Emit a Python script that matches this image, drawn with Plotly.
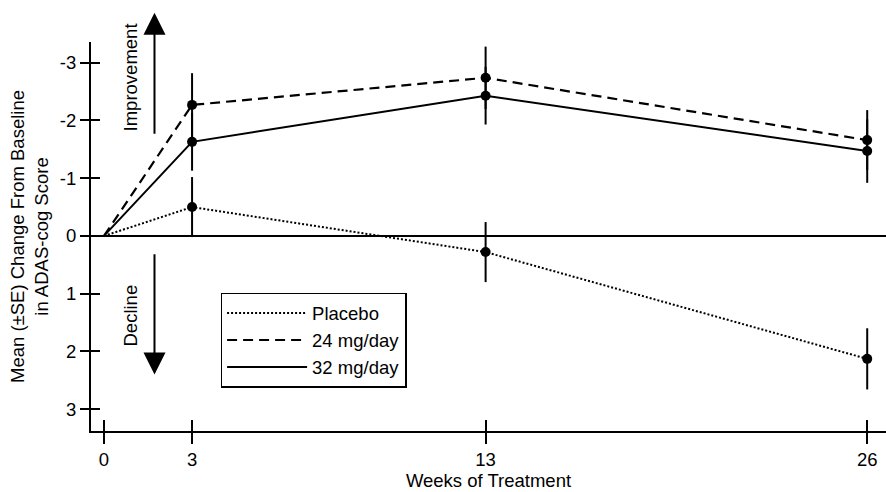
import plotly.graph_objects as go

# ---- data ----
weeks = [0, 3, 13, 26]
placebo = [0, -0.50, 0.28, 2.13]
placebo_se = [0, 0.52, 0.52, 0.53]
mg24 = [0, -2.27, -2.74, -1.66]
mg24_se = [0, 0.55, 0.54, 0.52]
mg32 = [0, -1.63, -2.43, -1.47]
mg32_se = [0, 0.50, 0.50, 0.55]

series_names = ["Placebo", "24 mg/day", "32 mg/day"]
y_tickvals = [-3, -2, -1, 0, 1, 2, 3]
y_ticktext = ["-3", "-2", "-1", "0", "1", "2", "3"]
x_tickvals = [0, 3, 13, 26]
x_ticktext = ["0", "3", "13", "26"]

FONT = "Liberation Sans, Arial, sans-serif"
FS = 18.5

fig = go.Figure()

styles = [
    dict(y=placebo, se=placebo_se, dash="2px,2px", width=2),
    dict(y=mg24, se=mg24_se, dash="10px,6px", width=2.2),
    dict(y=mg32, se=mg32_se, dash="solid", width=2),
]

for i, (name, st) in enumerate(zip(series_names, styles)):
    fig.add_trace(go.Scatter(
        x=weeks, y=st["y"], mode="lines", name=name,
        line=dict(color="black", width=st["width"], dash=st["dash"]),
        legendgroup=f"g{i}", showlegend=True, hoverinfo="skip",
    ))
for i, (name, st) in enumerate(zip(series_names, styles)):
    fig.add_trace(go.Scatter(
        x=weeks[1:], y=st["y"][1:], mode="markers", name=name,
        marker=dict(color="black", size=10),
        error_y=dict(type="data", array=st["se"][1:], color="black",
                     thickness=2, width=0),
        showlegend=False, legendgroup=f"g{i}",
    ))

fig.add_trace(go.Scatter(x=[None], y=[None], xaxis="x2", yaxis="y2",
                         showlegend=False, hoverinfo="skip"))

xr = [-0.443, 26.64]
yr = [3.38, -3.36]

fig.update_layout(
    width=886, height=492,
    margin=dict(l=91, r=0, t=42, b=61),
    paper_bgcolor="white", plot_bgcolor="white",
    font=dict(family=FONT, size=FS, color="black"),
    showlegend=True,
    legend=dict(
        x=0.163, y=0.355, xanchor="left", yanchor="top",
        bordercolor="black", borderwidth=1.5, bgcolor="white",
        font=dict(family=FONT, size=FS, color="black"),
        traceorder="normal", tracegroupgap=9, itemwidth=80,
    ),
    xaxis=dict(
        range=xr, showgrid=False, zeroline=False,
        showline=True, linecolor="black", linewidth=2,
        ticks="outside", ticklen=11, tickwidth=2, tickcolor="black",
        tickvals=x_tickvals, ticktext=x_ticktext,
        tickfont=dict(family=FONT, size=FS),
        title=dict(text="Weeks of Treatment", standoff=2,
                   font=dict(family=FONT, size=FS)),
    ),
    yaxis=dict(
        range=yr, showgrid=False,
        zeroline=True, zerolinecolor="black", zerolinewidth=2,
        showline=True, linecolor="black", linewidth=2,
        ticks="outside", ticklen=9, tickwidth=2, tickcolor="black",
        tickvals=y_tickvals, ticktext=y_ticktext,
        tickfont=dict(family=FONT, size=FS),
        title=dict(text="Mean (±SE) Change From Baseline<br>in ADAS-cog Score",
                   standoff=6, font=dict(family=FONT, size=FS)),
    ),
    xaxis2=dict(
        range=xr, overlaying="x", anchor="y", showgrid=False, zeroline=False,
        showline=False, ticks="inside", ticklen=11, tickwidth=2,
        tickcolor="black", tickvals=x_tickvals, showticklabels=False,
    ),
    yaxis2=dict(
        range=yr, overlaying="y", anchor="x", showgrid=False, zeroline=False,
        showline=False, ticks="inside", ticklen=9, tickwidth=2,
        tickcolor="black", tickvals=y_tickvals, showticklabels=False,
    ),
)

arrow_x = 1.72
fig.add_annotation(x=arrow_x, y=1.075, ax=arrow_x, ay=0.76,
                   xref="x", yref="y domain", axref="x", ayref="y domain",
                   showarrow=True, arrowhead=2, arrowsize=2.2, arrowwidth=2,
                   arrowcolor="black", text="")
fig.add_annotation(x=arrow_x, y=0.145, ax=arrow_x, ay=0.458,
                   xref="x", yref="y domain", axref="x", ayref="y domain",
                   showarrow=True, arrowhead=2, arrowsize=2.2, arrowwidth=2,
                   arrowcolor="black", text="")
fig.add_annotation(x=0.90, y=0.91, xref="x", yref="paper", text="Improvement",
                   textangle=-90, showarrow=False,
                   xanchor="center", yanchor="middle",
                   font=dict(family=FONT, size=FS, color="black"))
fig.add_annotation(x=0.90, y=0.298, xref="x", yref="paper", text="Decline",
                   textangle=-90, showarrow=False,
                   xanchor="center", yanchor="middle",
                   font=dict(family=FONT, size=FS, color="black"))

fig.write_html("out.html",
               config={"displayModeBar": False},
               post_script="document.body.style.margin='0px';")
